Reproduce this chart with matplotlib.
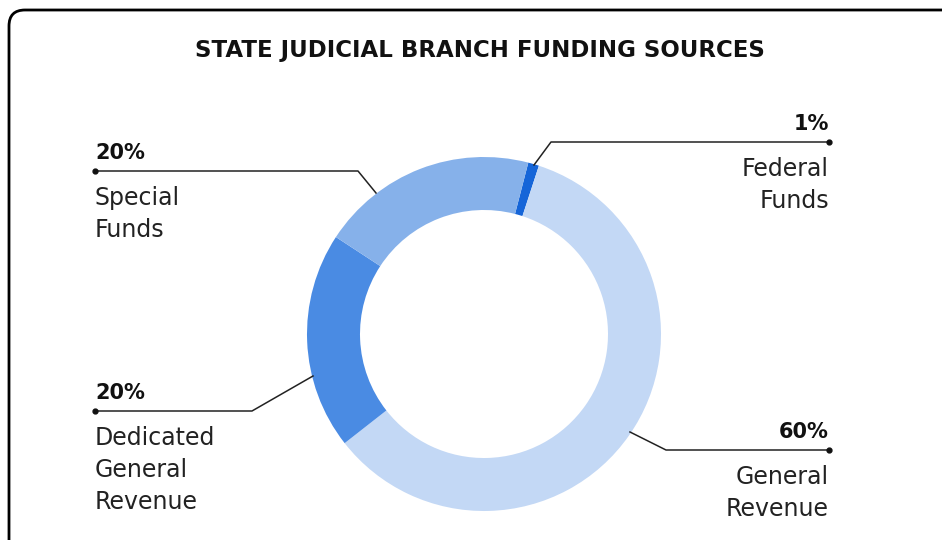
import matplotlib.pyplot as plt
from matplotlib.patches import FancyBboxPatch

# Chart data
sources = ["Federal\nFunds", "General\nRevenue", "Dedicated\nGeneral\nRevenue", "Special\nFunds"]
shares = [1, 60, 20, 20]
share_labels = ["1%", "60%", "20%", "20%"]
colors = ["#1565d8", "#c3d8f5", "#4a8be3", "#86b1ea"]

plt.rcParams['font.family'] = ['DejaVu Sans']

fig = plt.figure(figsize=(9.42, 5.4), dpi=100)
ax = fig.add_axes([0, 0, 1, 1])
ax.set_xlim(0, 942)
ax.set_ylim(0, 540)
ax.set_aspect('equal')
ax.axis('off')

# rounded frame (cut off at right / bottom like the source)
frame = FancyBboxPatch((9, -40), 960, 570, boxstyle="round,pad=0,rounding_size=16",
                       fill=False, edgecolor='black', linewidth=2)
ax.add_patch(frame)

ax.text(480, 489, "STATE JUDICIAL BRANCH FUNDING SOURCES", ha='center', va='center',
        fontsize=16.5, fontweight='bold', color='#111111')

# donut
ax.pie(shares, colors=colors, startangle=75.5, counterclock=False, center=(484, 206),
       radius=177, wedgeprops=dict(width=53, linewidth=0))
ax.set_xlim(0, 942)
ax.set_ylim(0, 540)

# leader lines: (wedge point, elbow, label dot), label side
leaders = [
    [(534, 375), (551, 398), (829, 398), 'right'],
    [(630, 108), (666, 90), (829, 90), 'right'],
    [(313, 164), (252, 129), (95, 129), 'left'],
    [(376, 347), (358, 369), (95, 369), 'left'],
]

for i, (p0, p1, p2, side) in enumerate(leaders):
    ax.plot([p0[0], p1[0], p2[0]], [p0[1], p1[1], p2[1]], color='#222222', lw=1.1)
    ax.plot(p2[0], p2[1], 'o', color='#111111', ms=3.5)
    ha = 'right' if side == 'right' else 'left'
    ax.text(p2[0], p2[1] + 8, share_labels[i], ha=ha, va='bottom', fontsize=15,
            fontweight='bold', color='#111111')
    ax.text(p2[0], p2[1] - 15, sources[i], ha=ha, va='top', fontsize=17,
            color='#222222', linespacing=1.42)

fig.savefig("out.png", dpi=100)
